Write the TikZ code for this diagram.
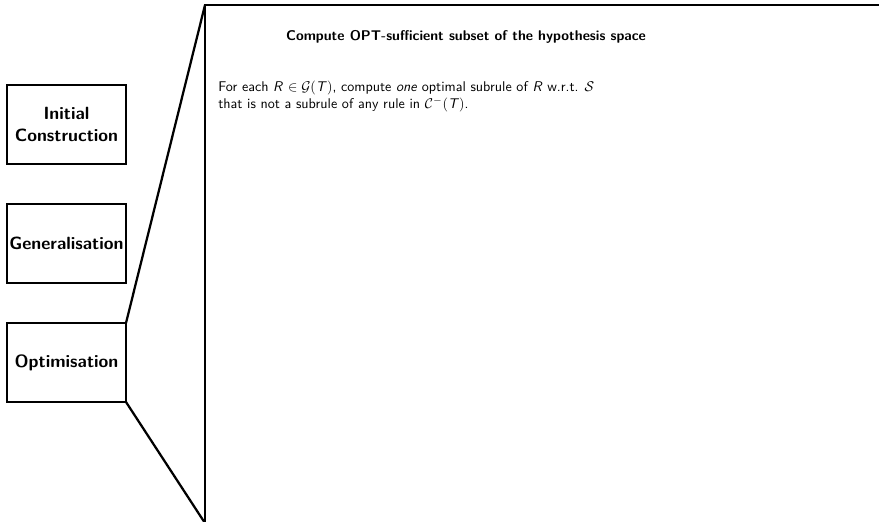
\documentclass[tikz,border=0pt]{standalone}
\usepackage{fontspec}
\begin{document}
\begin{tikzpicture}[x = 0.025cm, y = -0.025cm, font = \sffamily,
  stage/.style = {draw, line width = 1.6pt, outer sep = 0pt, inner sep = 1pt,
    minimum width = 2.975cm, minimum height = 1.975cm, align = center,
    font = \sffamily\bfseries\fontsize{12.6}{15.5}\selectfont},
  zoomline/.style = {line width = 1.6pt}]
\clip (0,0) rectangle (879,521);
\node[stage] (init) at (66.5,124.5) {Initial\\Construction};
\node[stage] (gen) at (66.5,243.5) {Generalisation};
\node[stage] (optim) at (66.5,362.5) {Optimisation};
\node[draw, line width = 1.6pt, outer sep = 0pt, anchor = north west,
  minimum width = 20cm, minimum height = 12.95cm] (detail) at (205,5) {};
\draw[zoomline] (optim.north east) -- (detail.north west);
\draw[zoomline] (optim.south east) -- (detail.south west);
\node[font = \sffamily\bfseries] (title) at (466,37) {Compute OPT-sufficient subset of the hypothesis space};
\node[anchor = north west, align = left, inner sep = 0pt] (task) at (218,81)
  {For each \textit{R} $\in \mathcal{G}($\textit{T}$)$, compute \textit{one} optimal subrule of \textit{R} w.r.t. $\mathcal{S}$\\
   that is not a subrule of any rule in $\mathcal{C}^{-}($\textit{T}$)$.};
\end{tikzpicture}
\end{document}
